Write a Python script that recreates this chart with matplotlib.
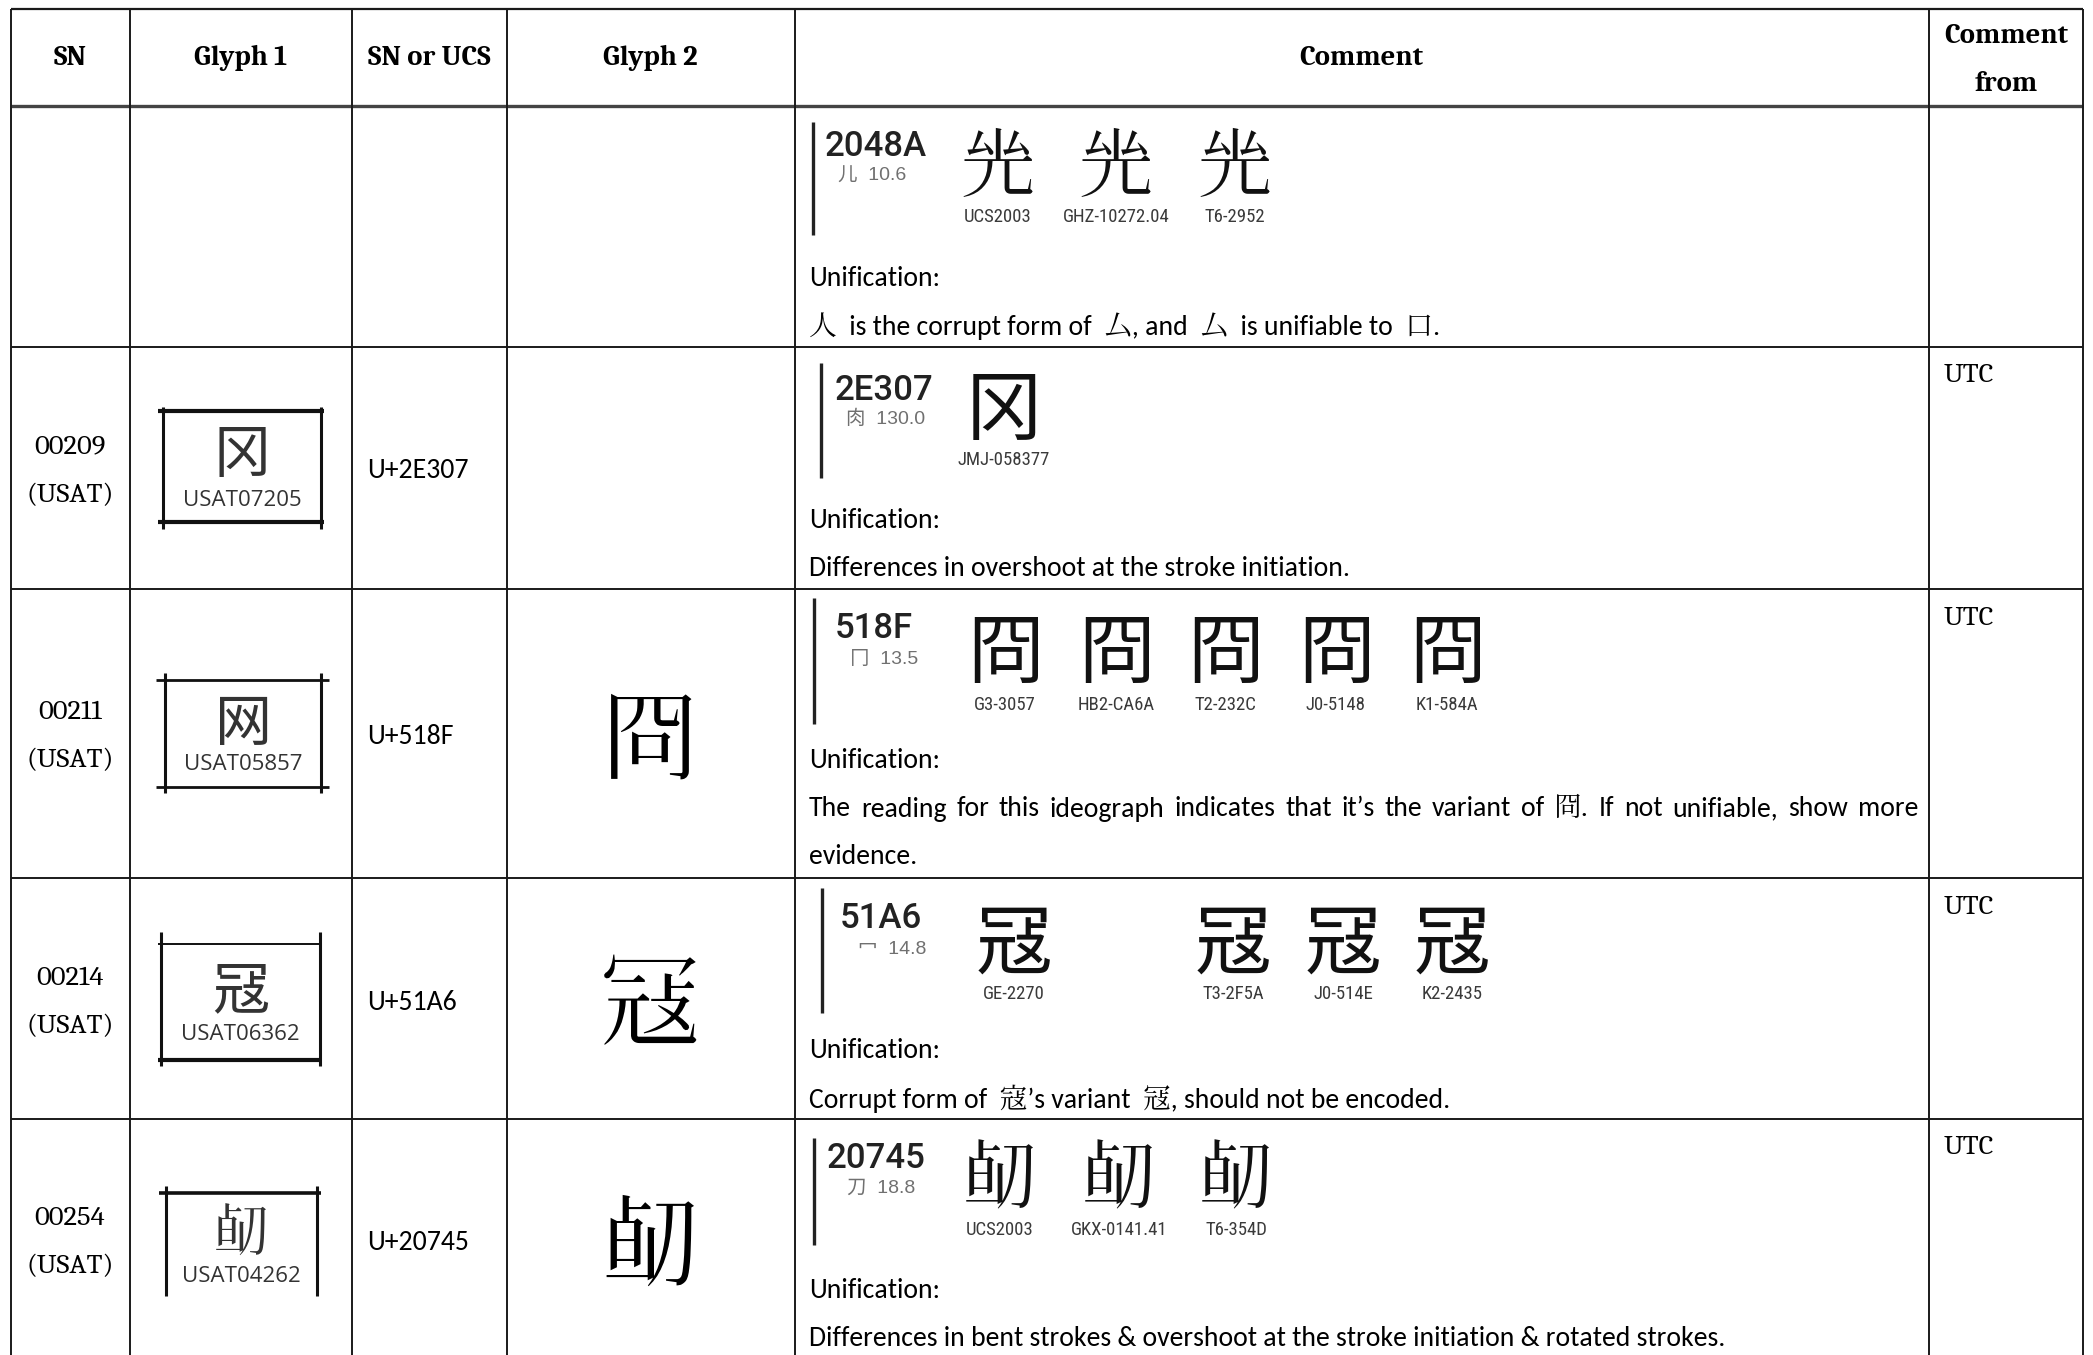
import matplotlib
matplotlib.use("Agg")
import matplotlib.pyplot as plt

# ---------------- data ----------------
headers = ["SN", "Glyph 1", "SN or UCS", "Glyph 2", "Comment", "Comment\nfrom"]
sn_values = ["", "00209\n(USAT)", "00211\n(USAT)", "00214\n(USAT)", "00254\n(USAT)"]
glyph1_chars = ["", "冈", "网", "冦", "\U00020745"]          # lookalikes for the USAT glyph images
glyph1_labels = ["", "USAT07205", "USAT05857", "USAT06362", "USAT04262"]
ucs_values = ["", "U+2E307", "U+518F", "U+51A6", "U+20745"]
glyph2_chars = ["", "", "冏", "冦", "\U00020745"]
sample_codes = ["2048A", "2E307", "518F", "51A6", "20745"]
sample_radicals = ["儿  10.6", "肉  130.0", "冂  13.5", "冖  14.8", "刀  18.8"]
sample_chars = [["\U0002048A"] * 3, ["冈"], ["冏"] * 5, ["冦"] * 4, ["\U00020745"] * 3]
sample_labels = [["UCS2003", "GHZ-10272.04", "T6-2952"],
                 ["JMJ-058377"],
                 ["G3-3057", "HB2-CA6A", "T2-232C", "J0-5148", "K1-584A"],
                 ["GE-2270", "T3-2F5A", "J0-514E", "K2-2435"],
                 ["UCS2003", "GKX-0141.41", "T6-354D"]]
comment_lines = [
    ["Unification:", "人  is the corrupt form of  厶, and  厶  is unifiable to  口."],
    ["Unification:", "Differences in overshoot at the stroke initiation."],
    ["Unification:", "The reading for this ideograph indicates that it’s the variant of  冏. If not unifiable, show more", "evidence."],
    ["Unification:", "Corrupt form of  寇’s variant  冦, should not be encoded."],
    ["Unification:", "Differences in bent strokes & overshoot at the stroke initiation & rotated strokes."],
]
justified_line = [None, None, 1, None, None]
comment_from = ["", "UTC", "UTC", "UTC", "UTC"]

# ---------------- layout (pixels) ----------------
W, H = 2093, 1355
col_x = [10.5, 129.5, 351.5, 506.5, 794.5, 1929, 2083]
row_y = [9, 106, 347, 589, 878, 1119]
row_mid = [0, 471, 736, 1002, 1242]

bar_x = [813, 821, 814, 822, 814]
bar_y = [(122, 235), (363, 478), (598, 724), (888, 1013), (1138, 1245)]
code_pos = [(876, 147), (884, 391), (874, 628), (881, 919), (876, 1159)]
rad_pos = [(872, 176), (886, 419), (884, 660), (892, 949), (881, 1188)]
glyph_xs = [[998, 1116, 1235], [1004], [1005, 1116, 1225, 1336, 1447],
            [1014, 1233, 1343, 1452], [1000, 1119, 1236]]
glyph_y = [170, 412, 655, 946, 1182]
label_y = [217, 460, 705, 994, 1230]
text_y0 = [278, 520, 761, 1051, 1291]
text_step = 48
text_x = 809
justify_right = 1918

utc_y = [0, 375, 618, 907, 1147]

box_v = [None, (163, 321, 407, 529), (165, 321, 673, 793), (161, 320, 932, 1066), (166, 317, 1186, 1296)]
box_h = [None, [(411, 3.0), (522, 3.0)], [(680, 2.0), (787, 2.0)], [(944, 1.4), (1060, 3.0)], [(1193, 2.6)]]
box_hx = [None, (158, 324), (156, 329), (158, 322), (159, 321)]
box_glyph_y = [0, 456, 725, 992, 1236]
box_label_y = [0, 500, 765, 1035, 1277]

body = ["Carlito", "Noto Serif CJK JP"]
serif = ["Caladea", "Noto Serif CJK JP"]
cjk_sans = ["Noto Sans CJK TC", "Cactus Classical Serif"]
cjk_serif = ["Cactus Classical Serif", "Noto Serif CJK JP"]
code_font = ["Roboto", "Noto Sans CJK TC"]
rad_font = ["Liberation Sans", "Noto Sans CJK TC"]
label_font = ["Roboto Condensed", "DejaVu Sans"]

fig = plt.figure(figsize=(W / 100, H / 100), dpi=100)
ax = fig.add_axes([0, 0, 1, 1])
ax.set_xlim(0, W)
ax.set_ylim(H, 0)
ax.axis("off")

# ---------------- grid ----------------
lc = "#1a1a1a"
ax.plot([col_x[0], col_x[-1]], [row_y[0], row_y[0]], color=lc, lw=1.6, solid_capstyle="butt")
ax.plot([col_x[0], col_x[-1]], [row_y[1], row_y[1]], color="#444444", lw=2.4, solid_capstyle="butt")
for y in row_y[2:]:
    ax.plot([col_x[0], col_x[-1]], [y, y], color=lc, lw=1.4, solid_capstyle="butt")
for x in col_x:
    ax.plot([x, x], [row_y[0], H], color=lc, lw=1.4, solid_capstyle="butt")

# ---------------- header ----------------
for i, h in enumerate(headers):
    cx = (col_x[i] + col_x[i + 1]) / 2
    parts = h.split("\n")
    if len(parts) == 1:
        ax.text(cx, 58, parts[0], ha="center", va="center", fontsize=20.5, fontweight="bold", family=serif)
    else:
        ax.text(cx, 36, parts[0], ha="center", va="center", fontsize=20.5, fontweight="bold", family=serif)
        ax.text(cx, 84, parts[1], ha="center", va="center", fontsize=20.5, fontweight="bold", family=serif)

renderer = fig.canvas.get_renderer()


def draw_justified(s, x0, x1, y):
    words = s.split()
    texts = [ax.text(0, y, w, ha="left", va="center", fontsize=20, family=body) for w in words]
    widths = [t.get_window_extent(renderer).width for t in texts]
    gap = (x1 - x0 - sum(widths)) / (len(words) - 1)
    x = x0
    for t, w in zip(texts, widths):
        t.set_x(x)
        x += w + gap


# ---------------- rows ----------------
for r in range(5):
    # SN column
    if sn_values[r]:
        a, b = sn_values[r].split("\n")
        ax.text(70, row_mid[r] - 24, a, ha="center", va="center", fontsize=20.5, family=serif)
        ax.text(70, row_mid[r] + 24, b, ha="center", va="center", fontsize=20.5, family=serif)
    # Glyph 1 box
    if glyph1_chars[r]:
        xl, xr, yt, yb = box_v[r]
        ax.plot([xl, xl], [yt, yb], color="#111111", lw=2.2, solid_capstyle="butt")
        ax.plot([xr, xr], [yt, yb], color="#111111", lw=2.2, solid_capstyle="butt")
        for (yy, lw) in box_h[r]:
            ax.plot(list(box_hx[r]), [yy, yy], color="#111111", lw=lw, solid_capstyle="butt")
        cx = (xl + xr) / 2
        ax.text(cx, box_glyph_y[r], glyph1_chars[r], ha="center", va="center", fontsize=41,
                family=cjk_sans, color="#333333")
        ax.text(cx, box_label_y[r], glyph1_labels[r], ha="center", va="center", fontsize=16,
                family=["Open Sans"], color="#333333")
    # UCS
    if ucs_values[r]:
        ax.text(367, row_mid[r], ucs_values[r], ha="left", va="center", fontsize=20, family=body)
    # Glyph 2
    if glyph2_chars[r]:
        ax.text(650, row_mid[r] + 11, glyph2_chars[r], ha="center", va="center", fontsize=72,
                family=cjk_serif, color="#000000")
    # Comment: sample image
    ax.plot([bar_x[r], bar_x[r]], list(bar_y[r]), color="#222222", lw=2.4, solid_capstyle="butt")
    ax.text(code_pos[r][0], code_pos[r][1], sample_codes[r], ha="center", va="center", fontsize=25,
            fontweight="medium", family=code_font, color="#222222")
    ax.text(rad_pos[r][0], rad_pos[r][1], sample_radicals[r], ha="center", va="center", fontsize=14,
            family=rad_font, color="#707070")
    for gx, ch, lab in zip(glyph_xs[r], sample_chars[r], sample_labels[r]):
        ax.text(gx, glyph_y[r], ch, ha="center", va="center", fontsize=55, family=cjk_sans, color="#111111")
        ax.text(gx, label_y[r], lab, ha="center", va="center", fontsize=13.5, family=label_font, color="#3a3a3a")
    # Comment text
    for k, line in enumerate(comment_lines[r]):
        y = text_y0[r] + k * text_step
        if justified_line[r] == k:
            draw_justified(line, text_x, justify_right, y)
        else:
            ax.text(text_x, y, line, ha="left", va="center", fontsize=20, family=body)
    # Comment from
    if comment_from[r]:
        ax.text(1944, utc_y[r], comment_from[r], ha="left", va="center", fontsize=20.5, family=serif)

fig.savefig("out.png", dpi=100)
